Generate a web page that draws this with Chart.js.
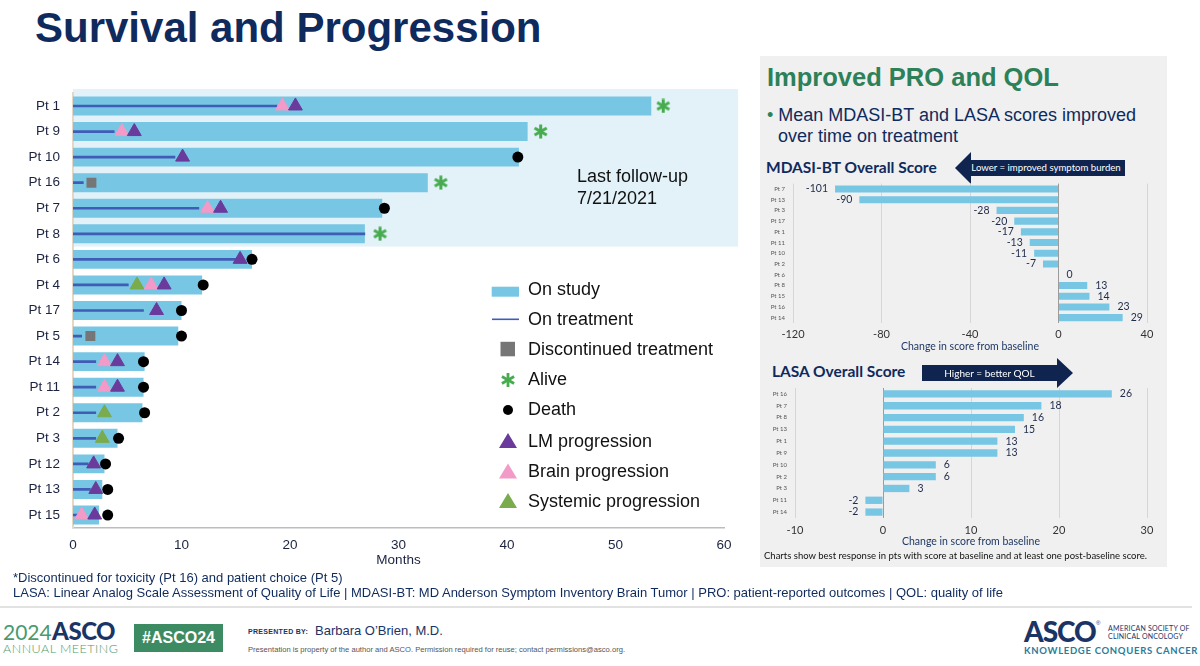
<!DOCTYPE html>
<html>
<head>
<meta charset="utf-8">
<script src="https://cdn.jsdelivr.net/npm/chart.js@4.4.1/dist/chart.umd.min.js"></script>
<style>
  html, body { margin: 0; padding: 0; }
  body { width: 1200px; height: 666px; position: relative; overflow: hidden; background: #fff;
         font-family: "Liberation Sans", Arial, sans-serif; }
  .t { position: absolute; white-space: nowrap; }
  .lato { font-family: Lato, "Open Sans", sans-serif; }
  .box { position: absolute; }
</style>
</head>
<body>

<!-- slide title -->
<div class="t" style="left:35px; top:7px; font-size:42px; line-height:42px; font-weight:bold; color:#0f2a5c;">Survival and Progression</div>

<!-- swimmer plot -->
<div class="box" style="left:0; top:80px; width:750px; height:500px;"><canvas id="swimChart"></canvas></div>

<div class="t" style="left:577px; top:166px; font-size:18px; line-height:21.6px; color:#111;">Last follow-up<br>7/21/2021</div>

<!-- legend for swimmer plot -->
<svg class="box" style="left:486px; top:278px;" width="40" height="235">
  <rect x="5.7" y="8.7" width="27.3" height="10" fill="#77c6e3"/>
  <line x1="6" y1="41.3" x2="33" y2="41.3" stroke="#3f5db5" stroke-width="1.6"/>
  <rect x="14.5" y="63.8" width="14.5" height="14.5" fill="#767676"/>
  <g stroke="#47ac4f" stroke-width="2.8" transform="translate(22 102)">
    <line x1="0" y1="-7" x2="0" y2="7"/>
    <line x1="-6.1" y1="-3.5" x2="6.1" y2="3.5"/>
    <line x1="-6.1" y1="3.5" x2="6.1" y2="-3.5"/>
  </g>
  <circle cx="22" cy="132" r="5" fill="#000"/>
  <polygon points="22,155 31,170 13,170" fill="#6a3a9c"/>
  <polygon points="22,185.5 31,200.5 13,200.5" fill="#f29ac8"/>
  <polygon points="22,215 31,230 13,230" fill="#7aab4c"/>
</svg>
<div class="t" style="left:528px; top:279px; font-size:18px; line-height:20px; color:#111;">On study</div>
<div class="t" style="left:528px; top:309.3px; font-size:18px; line-height:20px; color:#111;">On treatment</div>
<div class="t" style="left:528px; top:339.3px; font-size:18px; line-height:20px; color:#111;">Discontinued treatment</div>
<div class="t" style="left:528px; top:369.3px; font-size:18px; line-height:20px; color:#111;">Alive</div>
<div class="t" style="left:528px; top:399.3px; font-size:18px; line-height:20px; color:#111;">Death</div>
<div class="t" style="left:528px; top:430.7px; font-size:18px; line-height:20px; color:#111;">LM progression</div>
<div class="t" style="left:528px; top:461px; font-size:18px; line-height:20px; color:#111;">Brain progression</div>
<div class="t" style="left:528px; top:490.7px; font-size:18px; line-height:20px; color:#111;">Systemic progression</div>

<!-- right panel -->
<div class="box" style="left:760px; top:56px; width:407px; height:511px; background:#f0f0f0;"></div>
<div class="t" style="left:767px; top:64px; font-size:25.5px; line-height:26px; font-weight:bold; color:#2d8159;">Improved PRO and QOL</div>
<div class="t" style="left:767px; top:104.5px; font-size:18px; line-height:21.5px; color:#0f2a5c; white-space:normal; width:395px; padding-left:11px; text-indent:-11px;"><span style="color:#2d8159;">•</span> Mean MDASI-BT and LASA scores improved<br>over time on treatment</div>

<div class="t lato" style="left:766px; top:158.7px; font-size:15.5px; line-height:16px; font-weight:bold; color:#0f2a5c;">MDASI-BT Overall Score</div>
<svg class="box" style="left:950px; top:148px;" width="180" height="40">
  <polygon points="5,20 21,4 21,12 175,12 175,28 21,28 21,36" fill="#0f2550"/>
</svg>
<div class="t lato" style="left:970px; top:162px; width:152px; text-align:center; font-size:9.6px; line-height:12px; color:#fff;">Lower = improved symptom burden</div>
<div class="box" style="left:760px; top:178px; width:410px; height:180px;"><canvas id="mdasiChart"></canvas></div>

<div class="t lato" style="left:772px; top:363px; font-size:15.5px; line-height:16px; font-weight:bold; color:#0f2a5c;">LASA Overall Score</div>
<svg class="box" style="left:915px; top:352px;" width="165" height="42">
  <polygon points="7,13 142,13 142,6 158,21 142,36 142,29 7,29" fill="#0f2550"/>
</svg>
<div class="t lato" style="left:922px; top:367px; width:135px; text-align:center; font-size:10px; line-height:12px; color:#fff;">Higher = better QOL</div>
<div class="box" style="left:760px; top:382px; width:410px; height:170px;"><canvas id="lasaChart"></canvas></div>

<div class="t lato" style="left:764px; top:549.5px; font-size:9.5px; line-height:11px; color:#111;">Charts show best response in pts with score at baseline and at least one post-baseline score.</div>

<!-- footnotes -->
<div class="t" style="left:13px; top:570px; font-size:13px; line-height:15px; color:#0f2a5c;">*Discontinued for toxicity (Pt 16) and patient choice (Pt 5)</div>
<div class="t" style="left:13px; top:585px; font-size:13px; line-height:15px; color:#0f2a5c;">LASA: Linear Analog Scale Assessment of Quality of Life | MDASI-BT: MD Anderson Symptom Inventory Brain Tumor | PRO: patient-reported outcomes | QOL: quality of life</div>
<div class="box" style="left:0; top:606px; width:1192px; height:1.5px; background:#e2e2e2;"></div>

<!-- footer -->
<div class="t lato" style="left:3px; top:619px; font-size:21px; line-height:24px; color:#4a9a6c;">2024 <span style="font-weight:900; font-size:24px; color:#1b3466; margin-left:-5px; letter-spacing:-0.5px;">ASCO</span></div>
<div class="t lato" style="left:3px; top:641.5px; font-size:12.5px; line-height:13px; font-weight:300; letter-spacing:0.5px; color:#4a9a6c;">ANNUAL MEETING</div>
<div class="box" style="left:134px; top:624px; width:89px; height:28px; background:#3d8b62;"></div>
<div class="t" style="left:134px; top:628px; width:89px; text-align:center; font-size:16px; line-height:20px; font-weight:bold; color:#fff;">#ASCO24</div>
<div class="t" style="left:248px; top:627px; font-size:7px; line-height:9px; font-weight:bold; letter-spacing:0.3px; color:#1b3466;">PRESENTED BY:</div>
<div class="t" style="left:315px; top:622.5px; font-size:13px; line-height:15px; color:#1b3466;">Barbara O’Brien, M.D.</div>
<div class="t" style="left:248px; top:644.5px; font-size:7.6px; line-height:9px; color:#555;">Presentation is property of the author and ASCO. Permission required for reuse; contact permissions@asco.org.</div>

<div class="t lato" style="left:1024px; top:616px; font-size:28px; line-height:30px; font-weight:900; letter-spacing:-1px; color:#1b3466;">ASCO</div>
<div class="t" style="left:1096px; top:620px; font-size:6px; line-height:6px; color:#1b3466;">®</div>
<div class="t lato" style="left:1108px; top:623.5px; font-size:7px; line-height:8px; letter-spacing:0.2px; color:#1b3466;">AMERICAN SOCIETY OF</div>
<div class="t lato" style="left:1108px; top:631.5px; font-size:7px; line-height:8px; letter-spacing:0.2px; color:#1b3466;">CLINICAL ONCOLOGY</div>
<div class="t lato" style="left:1024px; top:645.5px; font-size:9.5px; line-height:10px; font-weight:bold; letter-spacing:0.7px; color:#2b7b99;">KNOWLEDGE CONQUERS CANCER</div>

<script>
// swimmer plot data (months)
const SWIM_PTS = ['Pt 1', 'Pt 9', 'Pt 10', 'Pt 16', 'Pt 7', 'Pt 8', 'Pt 6', 'Pt 4', 'Pt 17', 'Pt 5',
                  'Pt 14', 'Pt 11', 'Pt 2', 'Pt 3', 'Pt 12', 'Pt 13', 'Pt 15'];
const ON_STUDY = [53.3, 41.9, 41.1, 32.7, 28.5, 26.9, 16.5, 11.9, 10.0, 9.7, 6.6, 6.5, 6.4, 4.1, 2.9, 2.7, 2.4];
const ON_TREATMENT = [18.8, 3.8, 9.4, 0.95, 11.6, 26.9, 15.1, 5.1, 6.5, 0.8, 2.1, 2.1, 2.1, 2.1, 1.4, 1.6, 0.9];
const DISCONTINUED = [['Pt 16', 1.7], ['Pt 5', 1.6]];
const ALIVE = [['Pt 1', 54.4], ['Pt 9', 43.1], ['Pt 16', 33.9], ['Pt 8', 28.3]];
const DEATH = [['Pt 10', 41.0], ['Pt 7', 28.7], ['Pt 6', 16.5], ['Pt 4', 12.0], ['Pt 17', 10.0], ['Pt 5', 10.0],
               ['Pt 14', 6.5], ['Pt 11', 6.5], ['Pt 2', 6.6], ['Pt 3', 4.2], ['Pt 12', 3.0], ['Pt 13', 3.2], ['Pt 15', 3.2]];
const LM_PROG = [['Pt 1', 20.5], ['Pt 9', 5.65], ['Pt 10', 10.1], ['Pt 7', 13.6], ['Pt 6', 15.4], ['Pt 4', 8.4],
                 ['Pt 17', 7.7], ['Pt 14', 4.1], ['Pt 11', 4.1], ['Pt 12', 1.9], ['Pt 13', 2.1], ['Pt 15', 2.0]];
const BRAIN_PROG = [['Pt 1', 19.3], ['Pt 9', 4.5], ['Pt 7', 12.4], ['Pt 4', 7.2], ['Pt 14', 2.9], ['Pt 11', 2.9], ['Pt 15', 0.8]];
const SYSTEMIC_PROG = [['Pt 4', 5.9], ['Pt 2', 2.9], ['Pt 3', 2.7]];
const FOLLOWUP_ROWS = ['Pt 1', 'Pt 8'];   // shaded "alive at last follow-up" block
const FOLLOWUP_END = 61.3;
const MONTH_MAX = 60;

// PRO charts
const MDASI_PTS = ['Pt 7', 'Pt 13', 'Pt 3', 'Pt 17', 'Pt 1', 'Pt 11', 'Pt 10', 'Pt 2', 'Pt 6', 'Pt 8', 'Pt 15', 'Pt 16', 'Pt 14'];
const MDASI_CHANGE = [-101, -90, -28, -20, -17, -13, -11, -7, 0, 13, 14, 23, 29];
const LASA_PTS = ['Pt 16', 'Pt 7', 'Pt 8', 'Pt 13', 'Pt 1', 'Pt 9', 'Pt 10', 'Pt 2', 'Pt 3', 'Pt 11', 'Pt 14'];
const LASA_CHANGE = [26, 18, 16, 15, 13, 13, 6, 6, 3, -2, -2];

Chart.defaults.font.family = '"Liberation Sans", Arial, sans-serif';
Chart.defaults.animation = false;

function pts(list) {
    return list.map(([pt, m]) => ({ x: m, y: pt }));
}

// asterisk marker for "Alive"
function makeAsterisk(size, color, lw) {
    const c = document.createElement('canvas');
    c.width = size; c.height = size;
    const g = c.getContext('2d');
    g.strokeStyle = color; g.lineWidth = lw;
    const r = size / 2 - 0.5;
    [90, 30, 150].forEach(a => {
        const t = a * Math.PI / 180;
        g.beginPath();
        g.moveTo(size / 2 + Math.cos(t) * r, size / 2 - Math.sin(t) * r);
        g.lineTo(size / 2 - Math.cos(t) * r, size / 2 + Math.sin(t) * r);
        g.stroke();
    });
    return c;
}

// the category axis should not reserve room for half a label above/below
function noLabelPadding(scale) {
    scale.paddingTop = 0;
    scale.paddingBottom = 0;
}

// light blue block behind the patients still followed
const followupBlock = {
    id: 'followupBlock',
    beforeDraw(chart) {
        const { ctx, scales: { x, y } } = chart;
        const i0 = SWIM_PTS.indexOf(FOLLOWUP_ROWS[0]);
        const i1 = SWIM_PTS.indexOf(FOLLOWUP_ROWS[1]);
        const top = y.getPixelForValue(i0 - 0.66);
        const bottom = y.getPixelForValue(i1 + 0.5);
        const left = x.getPixelForValue(0);
        const right = x.getPixelForValue(FOLLOWUP_END);
        ctx.save();
        ctx.fillStyle = '#e2f2f8';
        ctx.fillRect(left, top, right - left, bottom - top);
        ctx.restore();
    }
};

const swimCtx = document.getElementById('swimChart').getContext('2d');
new Chart(swimCtx, {
    type: 'bar',
    data: {
        labels: SWIM_PTS,
        datasets: [
            { type: 'scatter', label: 'LM progression', data: pts(LM_PROG), pointStyle: 'triangle', pointRadius: 8,
              backgroundColor: '#6a3a9c', borderColor: '#6a3a9c', borderWidth: 1, order: 1 },
            { type: 'scatter', label: 'Brain progression', data: pts(BRAIN_PROG), pointStyle: 'triangle', pointRadius: 8,
              backgroundColor: '#f29ac8', borderColor: '#f29ac8', borderWidth: 1, order: 2 },
            { type: 'scatter', label: 'Systemic progression', data: pts(SYSTEMIC_PROG), pointStyle: 'triangle', pointRadius: 8,
              backgroundColor: '#7aab4c', borderColor: '#7aab4c', borderWidth: 1, order: 3 },
            { type: 'scatter', label: 'Death', data: pts(DEATH), pointStyle: 'circle', pointRadius: 5.5,
              backgroundColor: '#000', borderColor: '#000', borderWidth: 0, order: 0 },
            { type: 'scatter', label: 'Alive', data: pts(ALIVE), pointStyle: makeAsterisk(15, '#47ac4f', 3),
              order: 0 },
            { type: 'scatter', label: 'Discontinued treatment', data: pts(DISCONTINUED), pointStyle: 'rect', pointRadius: 7,
              backgroundColor: '#767676', borderColor: '#767676', borderWidth: 0, order: 0 },
            { label: 'On treatment', data: ON_TREATMENT.map(v => [0, v]), backgroundColor: '#3f5db5',
              barThickness: 2, grouped: false, order: 5 },
            { label: 'On study', data: ON_STUDY, backgroundColor: '#77c6e3',
              categoryPercentage: 1, barPercentage: 0.74, grouped: false, order: 6 }
        ]
    },
    options: {
        indexAxis: 'y',
        responsive: true,
        maintainAspectRatio: false,
        layout: { autoPadding: false, padding: { left: 0, right: 26, top: 13.2, bottom: 0 } },
        plugins: { legend: { display: false }, tooltip: { enabled: false } },
        scales: {
            x: {
                type: 'linear', min: 0, max: MONTH_MAX,
                ticks: { stepSize: 10, color: '#1c2340', font: { size: 13.5 }, padding: 9 },
                grid: { display: false, drawTicks: false },
                border: { color: '#bdbdbd', width: 1.5 },
                title: { display: true, text: 'Months', color: '#1c2340', font: { size: 13.5 }, padding: { top: 0, bottom: 12 } },
                afterFit(scale) { scale.height = 52.2; }
            },
            y: {
                type: 'category', offset: true,
                ticks: { color: '#1c2340', font: { size: 13.5 }, padding: 13, autoSkip: false },
                grid: { display: false, drawTicks: false },
                border: { color: '#e6d6c4', width: 2 },
                afterFit(scale) { scale.width = 73; noLabelPadding(scale); }
            }
        }
    },
    plugins: [followupBlock]
});

// value labels next to bar ends
const valueLabels = {
    id: 'valueLabels',
    afterDatasetsDraw(chart) {
        const ctx = chart.ctx;
        const meta = chart.getDatasetMeta(0);
        const vals = chart.data.datasets[0].data;
        ctx.save();
        ctx.font = '10.5px Lato';
        ctx.fillStyle = '#1e2b4a';
        ctx.textBaseline = 'middle';
        meta.data.forEach((bar, i) => {
            const v = vals[i];
            if (v < 0) {
                ctx.textAlign = 'right';
                ctx.fillText(String(v), bar.x - 7, bar.y);
            } else {
                ctx.textAlign = 'left';
                ctx.fillText(String(v), bar.x + 8, bar.y);
            }
        });
        ctx.restore();
    }
};

function proChart(id, labels, values, min, max, step, yWidth, pad, axisH, barPct, tickPad, titlePad) {
    new Chart(document.getElementById(id).getContext('2d'), {
        type: 'bar',
        data: {
            labels: labels,
            datasets: [{ data: values, backgroundColor: '#77c6e3', categoryPercentage: 1, barPercentage: barPct }]
        },
        options: {
            indexAxis: 'y',
            responsive: true,
            maintainAspectRatio: false,
            layout: { autoPadding: false, padding: pad },
            plugins: { legend: { display: false }, tooltip: { enabled: false } },
            scales: {
                x: {
                    min: min, max: max,
                    ticks: { stepSize: step, color: '#333', font: { family: 'Lato', size: 11 }, padding: tickPad },
                    grid: { drawTicks: false, color: c => (c.tick && c.tick.value === 0) ? '#9c9c9c' : '#d6d6d6' },
                    border: { display: false },
                    title: { display: true, text: 'Change in score from baseline', color: '#1f3864',
                             font: { family: 'Lato', size: 10.5 }, padding: { top: 0, bottom: titlePad } },
                    afterFit(scale) { scale.height = axisH; }
                },
                y: {
                    offset: true,
                    ticks: { color: '#555', font: { family: 'Lato', size: 6 }, padding: 8, autoSkip: false },
                    grid: { display: false, drawTicks: false },
                    border: { display: false },
                    afterFit(scale) { scale.width = yWidth; noLabelPadding(scale); }
                }
            }
        },
        plugins: [valueLabels]
    });
}

proChart('mdasiChart', MDASI_PTS, MDASI_CHANGE, -120, 40, 40, 33,
         { left: 0, right: 23, top: 5.6, bottom: 0 }, 35, 0.66, 5, 4.7);
proChart('lasaChart', LASA_PTS, LASA_CHANGE, -10, 30, 10, 35,
         { left: 0, right: 23, top: 6, bottom: 0 }, 34, 0.62, 6, 3.7);
</script>
</body>
</html>
